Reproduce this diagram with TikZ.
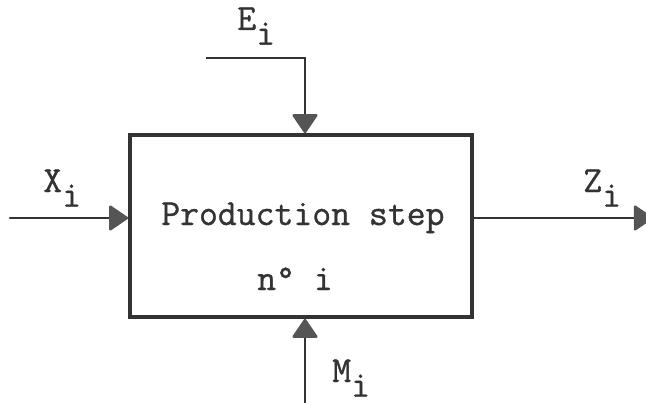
\documentclass[tikz,border=0pt]{standalone}
\usepackage{fontspec}
\usetikzlibrary{arrows.meta,positioning}
\definecolor{inkGrey}{HTML}{333333}
\definecolor{tipGrey}{HTML}{555555}
\newfontfamily\typewriter{Latin Modern Mono}[FakeBold=0.9]
\newcommand{\tyfont}{\typewriter\fontsize{27.5}{32}\selectfont}
\newcommand{\low}[1]{\raisebox{-0.4em}{#1}}
\tikzset{
  >={Triangle[length=15pt, width=20pt, round, color=tipGrey]},
  procbox/.style={draw=inkGrey, line width=2.6pt, minimum width=256.5pt,
              minimum height=136.5pt, inner sep=0pt},
  lbl/.style={font=\tyfont, text=inkGrey, inner sep=0pt, anchor=base west},
  flow/.style={->, draw=inkGrey, line width=1.7pt},
}

\begin{document}
\begin{tikzpicture}[x=0.75pt,y=-0.75pt]
        \useasboundingbox (0,0) rectangle (646,403);
        \node[procbox] (step) at (301,226) {};
        \node[lbl] (title) at (161,225) {Production step};
        \node[lbl] (stepno) at (257,290) {n° i};
        % flows in and out
        \coordinate (xin) at (10,218);
        \coordinate (zout) at (653,218);
        \coordinate (ein) at (206,58);
        \coordinate (ebend) at (305,58);
        \coordinate (min) at (305,410);
        \draw[flow,line cap=round] (xin) -- (xin -| step.west);
        \draw[flow] (step.east |- zout) -- (zout);
        \draw[flow] (ein) -- (ebend) -- (ebend |- step.north);
        \draw[flow] (min) -- (min |- step.south);
        \node[lbl] (xlab) at (43,192) {X\low{i}};
        \node[lbl] (zlab) at (583,192) {Z\low{i}};
        \node[lbl] (elab) at (237,30) {E\low{i}};
        \node[lbl] (mlab) at (332,382) {M\low{i}};
      \end{tikzpicture}
\end{document}
